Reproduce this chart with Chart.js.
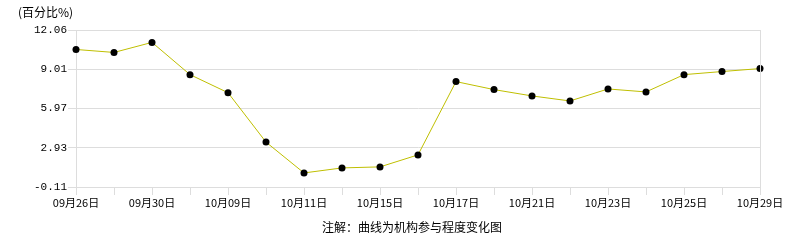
<!DOCTYPE html>
<html>
<head>
<meta charset="utf-8">
<script src="https://cdn.jsdelivr.net/npm/chart.js@4/dist/chart.umd.min.js"></script>
<style>
  html, body { margin: 0; padding: 0; background: #fff; }
  #wrap { width: 786px; height: 240px; }
</style>
</head>
<body>
<div id="wrap"><canvas id="c" width="786" height="240"></canvas></div>
<script>
(function () {

// ------------------------------------------------------------------------------

var dates = ['09月26日', '09月27日', '09月30日', '10月08日', '10月09日', '10月10日', '10月11日',
             '10月14日', '10月15日', '10月16日', '10月17日', '10月18日', '10月21日', '10月22日',
             '10月23日', '10月24日', '10月25日', '10月28日', '10月29日'];
var values = [10.55, 10.32, 11.10, 8.60, 7.20, 3.37, 0.98, 1.37, 1.45, 2.38,
              8.06, 7.44, 6.95, 6.56, 7.49, 7.26, 8.60, 8.84, 9.07];
var yTicks = [-0.11, 2.93, 5.97, 9.01, 12.06];

var unitText = '(百分比%)';
var noteText = '注解：曲线为机构参与程度变化图';

var FONT = '"Noto Sans CJK SC", "Noto Sans", sans-serif';
var MONO = '"Liberation Mono", "DejaVu Sans Mono", monospace';
var GRID = '#dddddd';

// frame on the right + the two free texts
var extras = {
    id: 'extras',
    afterDraw: function (chart) {
        var ctx = chart.ctx, a = chart.chartArea;
        ctx.save();
        ctx.strokeStyle = GRID;
        ctx.lineWidth = 1;
        ctx.beginPath();
        ctx.moveTo(Math.round(a.right) + 0.5, a.top);
        ctx.lineTo(Math.round(a.right) + 0.5, a.bottom);
        ctx.stroke();

        ctx.fillStyle = '#000';
        ctx.font = '12px ' + FONT;
        ctx.textBaseline = 'middle';
        ctx.textAlign = 'left';
        ctx.fillText(unitText, 18, 12);
        ctx.textAlign = 'center';
        ctx.fillText(noteText, 412, 227);
        ctx.restore();
    }
};

try {
    var ctx = document.getElementById('c').getContext('2d');

    new Chart(ctx, {
        type: 'line',
        data: {
            labels: dates,
            datasets: [{
                data: values,
                borderColor: '#bfbf00',
                borderWidth: 1,
                backgroundColor: '#000',
                pointBackgroundColor: '#000',
                pointBorderColor: '#000',
                pointRadius: 3.5,
                pointBorderWidth: 0,
                tension: 0,
                fill: false
            }]
        },
        options: {
            responsive: false,
            animation: false,
            layout: { padding: { top: 30, right: 26, left: 0, bottom: 0 } },
            plugins: {
                legend: { display: false },
                tooltip: { enabled: false }
            },
            scales: {
                x: {
                    offset: false,
                    grid: { drawOnChartArea: false, color: GRID, tickLength: 8 },
                    border: { color: GRID },
                    ticks: {
                        autoSkip: false,
                        maxRotation: 0,
                        padding: 1,
                        color: '#000',
                        font: { family: FONT, size: 11 },
                        callback: function (v, i) { return i % 2 === 0 ? dates[i] : ''; }
                    },
                    afterFit: function (s) { s.height = 53; }
                },
                y: {
                    min: yTicks[0],
                    max: yTicks[yTicks.length - 1],
                    grid: { color: GRID, tickLength: 8 },
                    border: { color: GRID },
                    afterBuildTicks: function (s) {
                        s.ticks = yTicks.map(function (v) { return { value: v }; });
                    },
                    ticks: {
                        padding: 1,
                        color: '#000',
                        font: { family: MONO, size: 11 },
                        callback: function (v) { return v.toFixed(2); }
                    },
                    afterFit: function (s) { s.width = 76; }
                }
            }
        },
        plugins: [extras]
    });
} catch (e) { console.log(e); }

// ------------------------------------------------------------------------------

})();
</script>
</body>
</html>
